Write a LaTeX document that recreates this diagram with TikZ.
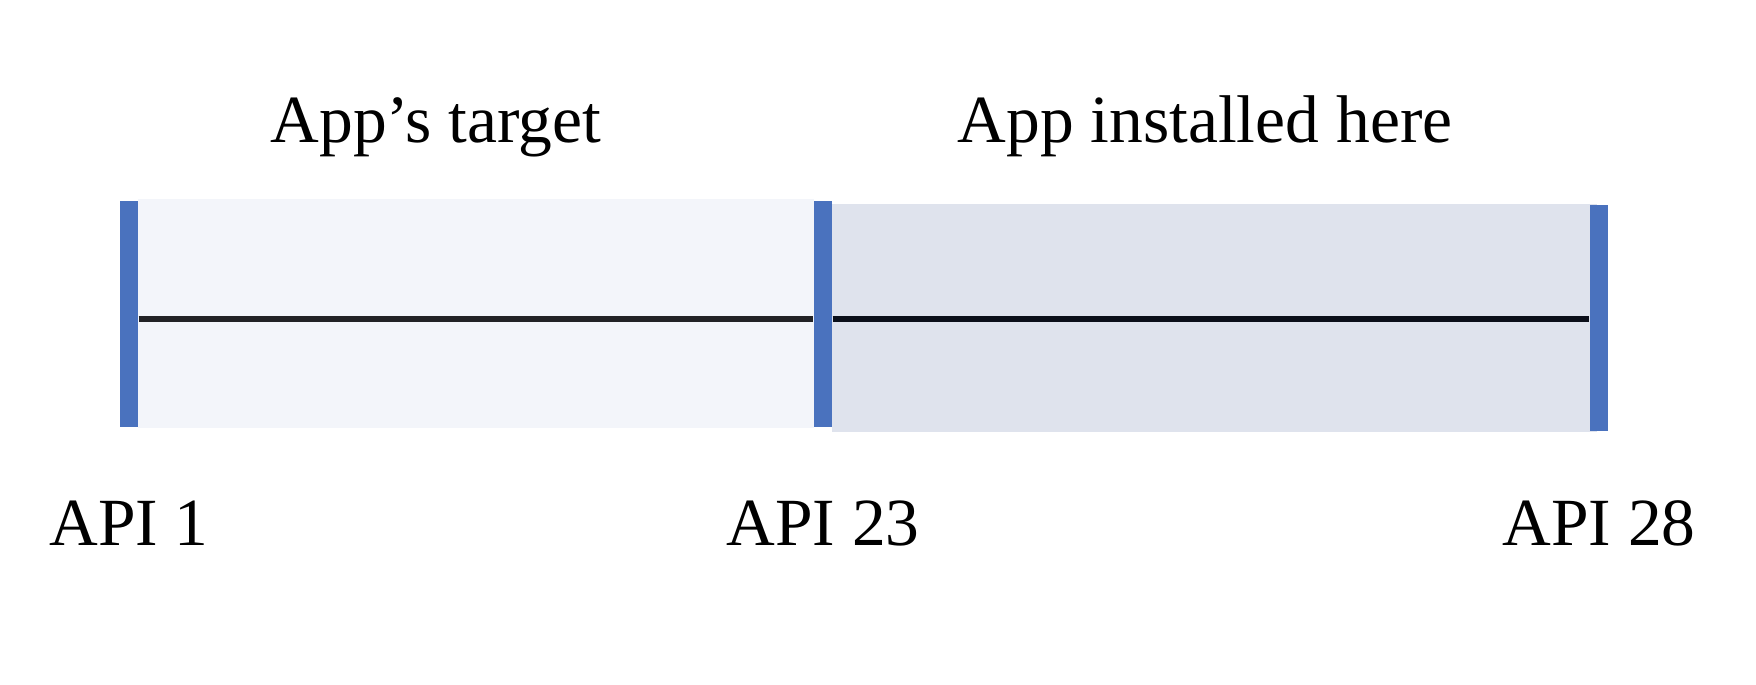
\documentclass[tikz,border=0pt]{standalone}
\usepackage{fontspec}
\setmainfont{Liberation Serif}
\usetikzlibrary{positioning}
\definecolor{barblue}{HTML}{4A72BE}
\definecolor{oldfill}{HTML}{F3F5FA}
\definecolor{newfill}{HTML}{DFE3ED}
\definecolor{axisleft}{HTML}{222226}
\definecolor{axisright}{HTML}{0B0F1A}
\tikzset{bar/.style={fill=barblue,inner sep=0pt,minimum width=0.18cm,minimum height=2.26cm},
         lbl/.style={font=\fontsize{19.2}{23}\selectfont,inner sep=0pt}}

\begin{document}
\begin{tikzpicture}
        \useasboundingbox (0,0) rectangle (17.56,6.84);
        % shaded ranges
        \fill[oldfill] (1.38,2.56) rectangle (8.14,4.85);
        \fill[newfill] (8.32,2.52) rectangle (15.97,4.80);
        % version marks
        \node[bar] (api1) at (1.29,3.70) {};
        \node[bar] (api23) at (8.23,3.70) {};
        \node[bar] (api28) at (15.99,3.66) {};
        \draw[axisleft,line width=0.06cm] (api1.east |- 0,3.65) -- (api23.west |- 0,3.65);
        \draw[axisright,line width=0.06cm] (api23.east |- 0,3.65) -- (api28.west |- 0,3.65);
        % labels
        \node[lbl,anchor=base] (lbl1) at ([yshift=-1.18cm]api1.south) {API 1};
        \node[lbl,anchor=base] (lbl23) at ([yshift=-1.18cm]api23.south) {API 23};
        \node[lbl,anchor=base] (lbl28) at ([yshift=-1.14cm]api28.south) {API 28};
        \node[lbl,anchor=base] (target) at (4.36,5.41) {App’s target};
        \node[lbl,anchor=base] (installed) at (12.05,5.41) {App installed here};
    \end{tikzpicture}
\end{document}
